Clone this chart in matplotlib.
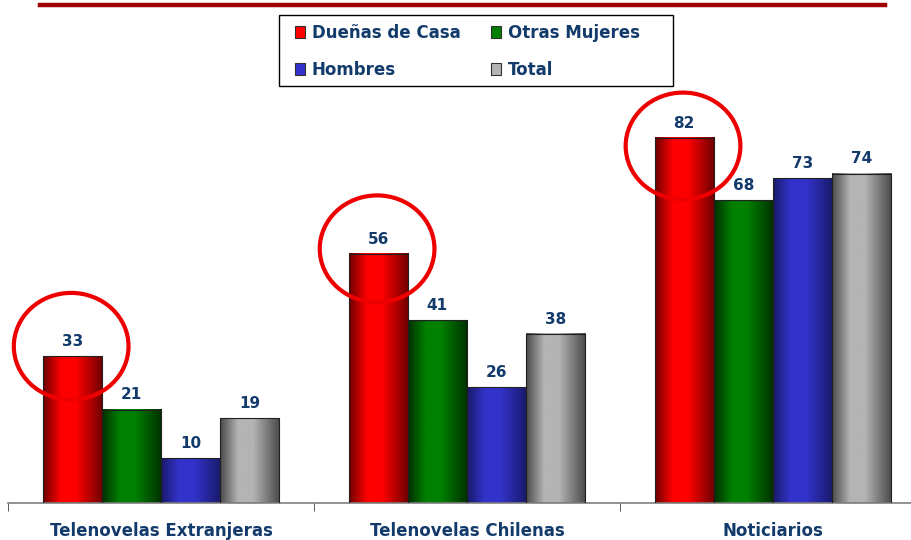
import matplotlib
matplotlib.use("Agg")
import matplotlib.pyplot as plt
import numpy as np
from matplotlib.patches import Ellipse, Rectangle
from matplotlib.lines import Line2D
from matplotlib.colors import LinearSegmentedColormap

# Datos
categorias = ["Telenovelas Extranjeras", "Telenovelas Chilenas", "Noticiarios"]
series = ["Dueñas de Casa", "Otras Mujeres", "Hombres", "Total"]
duenas = [33, 56, 82]
otras = [21, 41, 68]
hombres = [10, 26, 73]
total = [19, 38, 74]

NAVY = "#123a6b"
# (oscuro, claro) para el degradado de cada serie
GRADS = [("#6e0000", "#ff0000"), ("#003000", "#008000"),
         ("#181a6a", "#3333cc"), ("#4a4a4a", "#b4b4b4")]
# desplazamiento vertical de los circulos (dibujados a mano en el original)
CIRC_DY = [2.2, 1.1, -1.8]

fig = plt.figure(figsize=(9.12, 5.4), dpi=100)
ax = fig.add_axes([8 / 912, 37 / 540, 1 - 8 / 912, 503 / 540])

x = np.arange(len(categorias))
w = 0.193
valores = [duenas, otras, hombres, total]

for i, (vals, (dark, light)) in enumerate(zip(valores, GRADS)):
    bars = ax.bar(x + (i - 1.5) * w, vals, w, color="none",
                  edgecolor="#202020", linewidth=0.8, zorder=3)
    cmap = LinearSegmentedColormap.from_list(
        f"g{i}", [(0, dark), (0.3, light), (0.55, light), (1, dark)])
    grad = np.linspace(0, 1, 200).reshape(1, -1)
    for b, v in zip(bars, vals):
        ax.imshow(grad, cmap=cmap, aspect="auto", zorder=2,
                  extent=(b.get_x(), b.get_x() + b.get_width(), 0, b.get_height()))
        ax.text(b.get_x() + b.get_width() / 2, v + 1.6, str(v), ha="center",
                va="bottom", fontsize=11, fontweight="bold", color=NAVY)
    # circulos rojos sobre la serie Duenas de Casa
    if i == 0:
        for b, v, dy in zip(bars, vals, CIRC_DY):
            ax.add_patch(Ellipse((b.get_x() + b.get_width() / 2 - 0.004, v + dy),
                                 0.375, 24, fill=False, edgecolor="#ee0000",
                                 lw=3, zorder=5))

ax.set_xticks(x)
ax.set_xticklabels(categorias, fontsize=12, fontweight="bold", color=NAVY)
ax.tick_params(axis="x", which="major", length=0, pad=14)
ax.set_xticks([-0.5, 0.5, 1.5, 2.5], minor=True)
ax.tick_params(axis="x", which="minor", length=6, color="#404040", direction="out")
ax.set_yticks([])
ax.set_xlim(-0.5, 2.455)
ax.set_ylim(0, 113)
for s in ["left", "right", "top"]:
    ax.spines[s].set_visible(False)
ax.spines["bottom"].set_color("#808080")
ax.spines["bottom"].set_linewidth(1.2)

# leyenda: filas Duenas/Otras y Hombres/Total
handles = [Rectangle((0, 0), 1, 1, facecolor=l, edgecolor="#303030", lw=0.8)
           for d, l in GRADS]
orden = [0, 2, 1, 3]
leg = fig.legend([handles[k] for k in orden], [series[k] for k in orden],
                 ncol=2, loc="upper left", bbox_to_anchor=(295 / 912, 1 - 24 / 540),
                 bbox_transform=fig.transFigure, fontsize=12, frameon=False,
                 handlelength=0.6, handleheight=0.75, handletextpad=0.4,
                 columnspacing=1.85, borderpad=0, borderaxespad=0,
                 labelspacing=1.15)
for t in leg.get_texts():
    t.set_color(NAVY)
    t.set_fontweight("bold")
fig.add_artist(Rectangle((279 / 912, 1 - 86 / 540), 394 / 912, 71 / 540,
                         transform=fig.transFigure, fill=False,
                         edgecolor="black", lw=1.0))

# linea roja superior
fig.add_artist(Line2D([40 / 912, 885 / 912], [1 - 5 / 540] * 2,
                      color="#a00000", lw=3.2))

fig.savefig("out.png", dpi=100)
